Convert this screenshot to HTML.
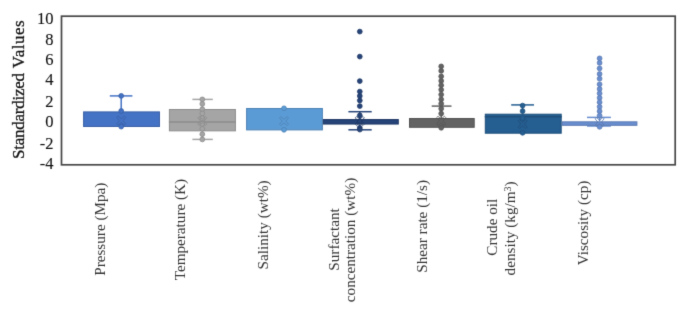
<!DOCTYPE html>
<html><head><meta charset="utf-8"><style>
html,body{margin:0;padding:0;background:#fff;}
body{width:685px;height:324px;overflow:hidden;}
svg{display:block;font-family:"Liberation Serif",serif;}
text{fill:#111;} .b{stroke:#111;stroke-width:0.3px;} .t{stroke:#111;stroke-width:0.12px;} .x{fill:#333;}
</style></head><body>
<svg width="685" height="324" viewBox="0 0 685 324">
<defs><filter id="bl" color-interpolation-filters="sRGB" x="-10" y="-10" width="705" height="344" filterUnits="userSpaceOnUse"><feConvolveMatrix order="3" kernelMatrix="0.01134 0.08382 0.01134 0.08382 0.61935 0.08382 0.01134 0.08382 0.01134" edgeMode="duplicate"/></filter></defs>
<g filter="url(#bl)">
<rect x="-10" y="-10" width="705" height="344" fill="#fff"/>
<line x1="121.2" y1="95.9" x2="121.2" y2="111.4" stroke="#4472C4" stroke-width="1.5"/>
<line x1="109.8" y1="95.9" x2="132.4" y2="95.9" stroke="#4472C4" stroke-width="1.5"/>
<rect x="83.60" y="111.90" width="75.90" height="14.60" fill="#4472C4" stroke="#3960a6" stroke-width="1"/>
<circle cx="121.2" cy="95.9" r="2.4" fill="#4472C4" stroke="#3960a6" stroke-width="0.8"/>
<circle cx="121.2" cy="111.0" r="2.4" fill="#4472C4" stroke="#3960a6" stroke-width="0.8"/>
<circle cx="121.2" cy="126.6" r="2.4" fill="#4472C4" stroke="#3960a6" stroke-width="0.8"/>
<polygon points="116.70,117.40 118.00,116.10 121.20,118.80 124.40,116.10 125.70,117.40 123.00,120.60 125.70,123.80 124.40,125.10 121.20,122.40 118.00,125.10 116.70,123.80 119.40,120.60" fill="none" stroke="#3960a6" stroke-width="0.8"/>
<line x1="202.3" y1="99.4" x2="202.3" y2="109.0" stroke="#A5A5A5" stroke-width="1.5"/>
<line x1="192.4" y1="99.4" x2="212.8" y2="99.4" stroke="#A5A5A5" stroke-width="1.5"/>
<line x1="202.3" y1="131.35" x2="202.3" y2="139.4" stroke="#A5A5A5" stroke-width="1.5"/>
<line x1="192.4" y1="139.4" x2="212.8" y2="139.4" stroke="#A5A5A5" stroke-width="1.5"/>
<rect x="169.40" y="109.50" width="66.00" height="21.35" fill="#A5A5A5" stroke="#8c8c8c" stroke-width="1"/>
<line x1="168.9" y1="122.0" x2="235.9" y2="122.0" stroke="#8c8c8c" stroke-width="1.5"/>
<circle cx="202.3" cy="99.4" r="2.4" fill="#A5A5A5" stroke="#8c8c8c" stroke-width="0.8"/>
<circle cx="202.3" cy="103.9" r="2.4" fill="#A5A5A5" stroke="#8c8c8c" stroke-width="0.8"/>
<circle cx="202.3" cy="109.2" r="2.4" fill="#A5A5A5" stroke="#8c8c8c" stroke-width="0.8"/>
<circle cx="202.3" cy="113.4" r="2.4" fill="#A5A5A5" stroke="#8c8c8c" stroke-width="0.8"/>
<circle cx="202.3" cy="118.2" r="2.4" fill="#A5A5A5" stroke="#8c8c8c" stroke-width="0.8"/>
<circle cx="202.3" cy="123.9" r="2.4" fill="#A5A5A5" stroke="#8c8c8c" stroke-width="0.8"/>
<circle cx="202.3" cy="128.8" r="2.4" fill="#A5A5A5" stroke="#8c8c8c" stroke-width="0.8"/>
<circle cx="202.3" cy="134.2" r="2.4" fill="#A5A5A5" stroke="#8c8c8c" stroke-width="0.8"/>
<circle cx="202.3" cy="139.4" r="2.4" fill="#A5A5A5" stroke="#8c8c8c" stroke-width="0.8"/>
<polygon points="197.80,117.80 199.10,116.50 202.30,119.20 205.50,116.50 206.80,117.80 204.10,121.00 206.80,124.20 205.50,125.50 202.30,122.80 199.10,125.50 197.80,124.20 200.50,121.00" fill="none" stroke="#8c8c8c" stroke-width="0.8"/>
<rect x="246.60" y="108.50" width="75.80" height="21.40" fill="#5B9BD5" stroke="#4d83b5" stroke-width="1"/>
<circle cx="284.0" cy="108.3" r="2.4" fill="#5B9BD5" stroke="#4d83b5" stroke-width="0.8"/>
<circle cx="284.0" cy="129.8" r="2.4" fill="#5B9BD5" stroke="#4d83b5" stroke-width="0.8"/>
<polygon points="279.50,117.90 280.80,116.60 284.00,119.30 287.20,116.60 288.50,117.90 285.80,121.10 288.50,124.30 287.20,125.60 284.00,122.90 280.80,125.60 279.50,124.30 282.20,121.10" fill="none" stroke="#4d83b5" stroke-width="0.8"/>
<line x1="359.8" y1="111.7" x2="359.8" y2="119.05" stroke="#264478" stroke-width="1.5"/>
<line x1="348.4" y1="111.7" x2="371.7" y2="111.7" stroke="#264478" stroke-width="1.5"/>
<line x1="359.8" y1="124.55" x2="359.8" y2="129.8" stroke="#264478" stroke-width="1.5"/>
<line x1="348.4" y1="129.8" x2="371.7" y2="129.8" stroke="#264478" stroke-width="1.5"/>
<rect x="323.40" y="119.55" width="74.90" height="4.50" fill="#264478" stroke="#203966" stroke-width="1"/>
<circle cx="359.8" cy="31.6" r="2.4" fill="#264478" stroke="#203966" stroke-width="0.8"/>
<circle cx="359.8" cy="56.6" r="2.4" fill="#264478" stroke="#203966" stroke-width="0.8"/>
<circle cx="359.8" cy="81.1" r="2.4" fill="#264478" stroke="#203966" stroke-width="0.8"/>
<circle cx="359.8" cy="91.6" r="2.4" fill="#264478" stroke="#203966" stroke-width="0.8"/>
<circle cx="359.8" cy="96.0" r="2.4" fill="#264478" stroke="#203966" stroke-width="0.8"/>
<circle cx="359.8" cy="100.5" r="2.4" fill="#264478" stroke="#203966" stroke-width="0.8"/>
<circle cx="359.8" cy="106.1" r="2.4" fill="#264478" stroke="#203966" stroke-width="0.8"/>
<circle cx="359.8" cy="115.4" r="2.4" fill="#264478" stroke="#203966" stroke-width="0.8"/>
<circle cx="359.8" cy="121.5" r="2.4" fill="#264478" stroke="#203966" stroke-width="0.8"/>
<circle cx="359.8" cy="127.8" r="2.4" fill="#264478" stroke="#203966" stroke-width="0.8"/>
<circle cx="359.8" cy="129.6" r="2.4" fill="#264478" stroke="#203966" stroke-width="0.8"/>
<polygon points="355.30,117.80 356.60,116.50 359.80,119.20 363.00,116.50 364.30,117.80 361.60,121.00 364.30,124.20 363.00,125.50 359.80,122.80 356.60,125.50 355.30,124.20 358.00,121.00" fill="none" stroke="#203966" stroke-width="0.8"/>
<line x1="441.2" y1="106.1" x2="441.2" y2="118.0" stroke="#636363" stroke-width="1.5"/>
<line x1="431.7" y1="106.1" x2="451.5" y2="106.1" stroke="#636363" stroke-width="1.5"/>
<rect x="409.50" y="118.50" width="64.70" height="8.80" fill="#636363" stroke="#545454" stroke-width="1"/>
<circle cx="441.2" cy="66.4" r="2.4" fill="#636363" stroke="#545454" stroke-width="0.8"/>
<circle cx="441.2" cy="70.9" r="2.4" fill="#636363" stroke="#545454" stroke-width="0.8"/>
<circle cx="441.2" cy="76.4" r="2.4" fill="#636363" stroke="#545454" stroke-width="0.8"/>
<circle cx="441.2" cy="80.9" r="2.4" fill="#636363" stroke="#545454" stroke-width="0.8"/>
<circle cx="441.2" cy="85.3" r="2.4" fill="#636363" stroke="#545454" stroke-width="0.8"/>
<circle cx="441.2" cy="89.8" r="2.4" fill="#636363" stroke="#545454" stroke-width="0.8"/>
<circle cx="441.2" cy="94.6" r="2.4" fill="#636363" stroke="#545454" stroke-width="0.8"/>
<circle cx="441.2" cy="99.4" r="2.4" fill="#636363" stroke="#545454" stroke-width="0.8"/>
<circle cx="441.2" cy="103.7" r="2.4" fill="#636363" stroke="#545454" stroke-width="0.8"/>
<circle cx="441.2" cy="108.7" r="2.4" fill="#636363" stroke="#545454" stroke-width="0.8"/>
<circle cx="441.2" cy="113.6" r="2.4" fill="#636363" stroke="#545454" stroke-width="0.8"/>
<circle cx="441.2" cy="127.8" r="2.4" fill="#636363" stroke="#545454" stroke-width="0.8"/>
<polygon points="436.70,117.60 438.00,116.30 441.20,119.00 444.40,116.30 445.70,117.60 443.00,120.80 445.70,124.00 444.40,125.30 441.20,122.60 438.00,125.30 436.70,124.00 439.40,120.80" fill="none" stroke="#545454" stroke-width="0.8"/>
<line x1="522.6" y1="104.9" x2="522.6" y2="113.7" stroke="#255E91" stroke-width="1.5"/>
<line x1="511.2" y1="104.9" x2="534.0" y2="104.9" stroke="#255E91" stroke-width="1.5"/>
<rect x="485.30" y="114.20" width="75.90" height="19.00" fill="#255E91" stroke="#1f4f7b" stroke-width="1"/>
<line x1="484.8" y1="116.7" x2="561.7" y2="116.7" stroke="#1f4f7b" stroke-width="1.5"/>
<circle cx="522.6" cy="105.6" r="2.4" fill="#255E91" stroke="#1f4f7b" stroke-width="0.8"/>
<circle cx="522.6" cy="111.1" r="2.4" fill="#255E91" stroke="#1f4f7b" stroke-width="0.8"/>
<circle cx="522.6" cy="118.1" r="2.4" fill="#255E91" stroke="#1f4f7b" stroke-width="0.8"/>
<circle cx="522.6" cy="132.8" r="2.4" fill="#255E91" stroke="#1f4f7b" stroke-width="0.8"/>
<polygon points="518.10,120.80 519.40,119.50 522.60,122.20 525.80,119.50 527.10,120.80 524.40,124.00 527.10,127.20 525.80,128.50 522.60,125.80 519.40,128.50 518.10,127.20 520.80,124.00" fill="none" stroke="#1f4f7b" stroke-width="0.8"/>
<line x1="599.6" y1="117.4" x2="599.6" y2="121.35" stroke="#698ED0" stroke-width="1.5"/>
<line x1="587.0" y1="117.4" x2="610.9" y2="117.4" stroke="#698ED0" stroke-width="1.5"/>
<line x1="599.6" y1="125.8" x2="599.6" y2="126.0" stroke="#698ED0" stroke-width="1.5"/>
<line x1="587.0" y1="126.0" x2="610.9" y2="126.0" stroke="#698ED0" stroke-width="1.5"/>
<rect x="562.20" y="121.85" width="74.70" height="3.45" fill="#698ED0" stroke="#5978b0" stroke-width="1"/>
<circle cx="599.6" cy="58.4" r="2.4" fill="#698ED0" stroke="#5978b0" stroke-width="0.8"/>
<circle cx="599.6" cy="62.9" r="2.4" fill="#698ED0" stroke="#5978b0" stroke-width="0.8"/>
<circle cx="599.6" cy="68.4" r="2.4" fill="#698ED0" stroke="#5978b0" stroke-width="0.8"/>
<circle cx="599.6" cy="74.0" r="2.4" fill="#698ED0" stroke="#5978b0" stroke-width="0.8"/>
<circle cx="599.6" cy="78.7" r="2.4" fill="#698ED0" stroke="#5978b0" stroke-width="0.8"/>
<circle cx="599.6" cy="84.3" r="2.4" fill="#698ED0" stroke="#5978b0" stroke-width="0.8"/>
<circle cx="599.6" cy="89.0" r="2.4" fill="#698ED0" stroke="#5978b0" stroke-width="0.8"/>
<circle cx="599.6" cy="93.4" r="2.4" fill="#698ED0" stroke="#5978b0" stroke-width="0.8"/>
<circle cx="599.6" cy="97.9" r="2.4" fill="#698ED0" stroke="#5978b0" stroke-width="0.8"/>
<circle cx="599.6" cy="102.3" r="2.4" fill="#698ED0" stroke="#5978b0" stroke-width="0.8"/>
<circle cx="599.6" cy="106.8" r="2.4" fill="#698ED0" stroke="#5978b0" stroke-width="0.8"/>
<circle cx="599.6" cy="111.2" r="2.4" fill="#698ED0" stroke="#5978b0" stroke-width="0.8"/>
<circle cx="599.6" cy="115.7" r="2.4" fill="#698ED0" stroke="#5978b0" stroke-width="0.8"/>
<circle cx="599.6" cy="126.8" r="2.4" fill="#698ED0" stroke="#5978b0" stroke-width="0.8"/>
<polygon points="595.10,118.80 596.40,117.50 599.60,120.20 602.80,117.50 604.10,118.80 601.40,122.00 604.10,125.20 602.80,126.50 599.60,123.80 596.40,126.50 595.10,125.20 597.80,122.00" fill="none" stroke="#5978b0" stroke-width="0.8"/>
<rect x="61.5" y="16.2" width="613.7" height="148.6" fill="none" stroke="#474747" stroke-width="1.7"/>
<text class="t" x="53.6" y="23.5" text-anchor="end" font-size="16.5">10</text>
<text class="t" x="53.6" y="44.6" text-anchor="end" font-size="16.5">8</text>
<text class="t" x="53.6" y="64.9" text-anchor="end" font-size="16.5">6</text>
<text class="t" x="53.6" y="85.1" text-anchor="end" font-size="16.5">4</text>
<text class="t" x="53.6" y="106.6" text-anchor="end" font-size="16.5">2</text>
<text class="t" x="53.6" y="127.1" text-anchor="end" font-size="16.5">0</text>
<text class="t" x="53.6" y="148.8" text-anchor="end" font-size="16.5">-2</text>
<text class="t" x="53.6" y="168.6" text-anchor="end" font-size="16.5">-4</text>
<text class="b" transform="translate(23.6 159.0) rotate(-90)" font-size="17" textLength="86.1" lengthAdjust="spacing">Standardized</text>
<text class="b" transform="translate(23.6 68.2) rotate(-90)" font-size="17" textLength="47.8" lengthAdjust="spacing">Values</text>
<text class="x" transform="translate(105.0 229.2) rotate(-90)" text-anchor="middle" font-size="15.2">Pressure (Mpa)</text>
<text class="x" transform="translate(184.6 229.6) rotate(-90)" text-anchor="middle" font-size="15.2">Temperature (K)</text>
<text class="x" transform="translate(267.6 224.9) rotate(-90)" text-anchor="middle" font-size="15.2">Salinity (wt%)</text>
<text class="x" transform="translate(338.8 239.5) rotate(-90)" text-anchor="middle" font-size="15.2">Surfactant</text>
<text class="x" transform="translate(354.6 240.0) rotate(-90)" text-anchor="middle" font-size="15.2">concentration (wt%)</text>
<text class="x" transform="translate(427.0 226.4) rotate(-90)" text-anchor="middle" font-size="15.2">Shear rate (1/s)</text>
<text class="x" transform="translate(497.4 227.2) rotate(-90)" text-anchor="middle" font-size="15.2">Crude oil</text>
<text class="x" transform="translate(514.6 228.4) rotate(-90)" text-anchor="middle" font-size="15.2">density (kg/m<tspan dy="-4" font-size="10">3</tspan><tspan dy="4">)</tspan></text>
<text class="x" transform="translate(588.1 223.0) rotate(-90)" text-anchor="middle" font-size="15.2">Viscosity (cp)</text>
</g>
</svg>
</body></html>
